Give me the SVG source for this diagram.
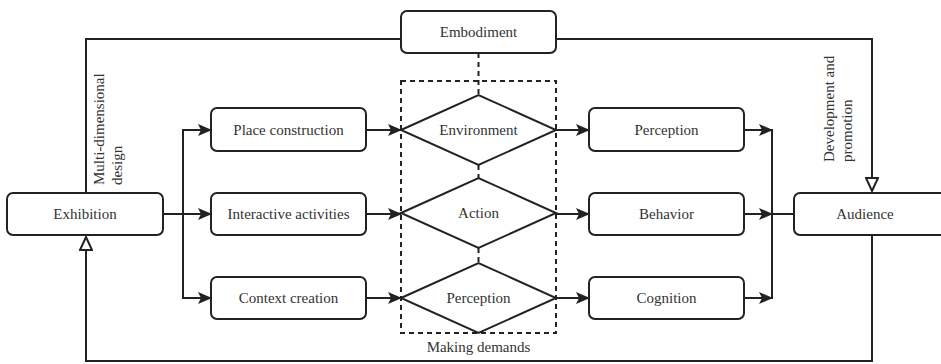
<svg xmlns="http://www.w3.org/2000/svg" width="941" height="364" viewBox="0 0 941 364">
<style>
.box{fill:#fff;stroke:#222;stroke-width:2}
.dia{fill:#fff;stroke:#222;stroke-width:2}
.ln{fill:none;stroke:#222;stroke-width:2}
.dash{fill:none;stroke:#222;stroke-width:2;stroke-dasharray:5,4}
.t{text-anchor:middle}
</style>
<defs>
<marker id="ah" markerWidth="14" markerHeight="12" refX="13" refY="6" orient="auto" markerUnits="userSpaceOnUse">
<path d="M0,0 L14,6 L0,12 L3,6 z" fill="#222"/>
</marker>
<marker id="hol" markerWidth="16" markerHeight="14" refX="14" refY="7" orient="auto" markerUnits="userSpaceOnUse">
<path d="M1,1 L14,7 L1,13 z" fill="#fff" stroke="#222" stroke-width="2"/>
</marker>
</defs>
<g id="connectors">
<polyline class="ln" points="86,193 86,39 401,39"/>
<polyline class="ln" points="556,39 872,39 872,191" marker-end="url(#hol)"/>
<polyline class="ln" points="872,235 872,361 86,361 86,237" marker-end="url(#hol)"/>
<line class="ln" x1="163" y1="214" x2="183" y2="214"/>
<polyline class="ln" points="211,130 183,130 183,298 211,298"/>
<line class="ln" x1="183" y1="130" x2="211" y2="130" marker-end="url(#ah)"/>
<line class="ln" x1="183" y1="214" x2="211" y2="214" marker-end="url(#ah)"/>
<line class="ln" x1="183" y1="298" x2="211" y2="298" marker-end="url(#ah)"/>
<line class="ln" x1="366" y1="130" x2="401" y2="130" marker-end="url(#ah)"/>
<line class="ln" x1="366" y1="214" x2="401" y2="214" marker-end="url(#ah)"/>
<line class="ln" x1="366" y1="298" x2="401" y2="298" marker-end="url(#ah)"/>
<line class="ln" x1="556" y1="130" x2="589" y2="130" marker-end="url(#ah)"/>
<line class="ln" x1="556" y1="214" x2="589" y2="214" marker-end="url(#ah)"/>
<line class="ln" x1="556" y1="298" x2="589" y2="298" marker-end="url(#ah)"/>
<line class="ln" x1="744" y1="130" x2="772" y2="130" marker-end="url(#ah)"/>
<line class="ln" x1="744" y1="214" x2="772" y2="214" marker-end="url(#ah)"/>
<line class="ln" x1="744" y1="298" x2="772" y2="298" marker-end="url(#ah)"/>
<line class="ln" x1="772" y1="129" x2="772" y2="299"/>
<line class="ln" x1="772" y1="214" x2="794" y2="214"/>
<line class="dash" x1="478.5" y1="53" x2="478.5" y2="95"/>
<line class="dash" x1="478.5" y1="165" x2="478.5" y2="178"/>
<line class="dash" x1="478.5" y1="248" x2="478.5" y2="263"/>
<rect class="dash" x="401" y="81" width="155" height="252"/>
</g>
<g font-family="Liberation Serif, Times New Roman, serif" font-size="15" fill="#333">
<g id="exhibition"><rect class="box" x="7" y="193" width="156" height="42" rx="6"/><text class="t" x="85" y="219">Exhibition</text></g>
<g id="embodiment"><rect class="box" x="401" y="11" width="155" height="42" rx="6"/><text class="t" x="478.5" y="37">Embodiment</text></g>
<g id="place"><rect class="box" x="211" y="108" width="155" height="43" rx="6"/><text class="t" x="288.5" y="135">Place construction</text></g>
<g id="interactive"><rect class="box" x="211" y="193" width="155" height="42" rx="6"/><text class="t" x="288.5" y="219">Interactive activities</text></g>
<g id="context"><rect class="box" x="211" y="277" width="155" height="42" rx="6"/><text class="t" x="288.5" y="303">Context creation</text></g>
<g id="environment"><polygon class="dia" points="401,130 478.5,95 556,130 478.5,165"/><text class="t" x="478.5" y="135">Environment</text></g>
<g id="action"><polygon class="dia" points="401,213 478.5,178 556,213 478.5,248"/><text class="t" x="478.5" y="218">Action</text></g>
<g id="perception-d"><polygon class="dia" points="401,298 478.5,263 556,298 478.5,333"/><text class="t" x="478.5" y="303">Perception</text></g>
<g id="perception"><rect class="box" x="589" y="108" width="155" height="43" rx="6"/><text class="t" x="666.5" y="135">Perception</text></g>
<g id="behavior"><rect class="box" x="589" y="193" width="155" height="42" rx="6"/><text class="t" x="666.5" y="219">Behavior</text></g>
<g id="cognition"><rect class="box" x="589" y="277" width="155" height="42" rx="6"/><text class="t" x="666.5" y="303">Cognition</text></g>
<g id="audience"><rect class="box" x="794" y="193" width="156" height="42" rx="6"/><text class="t" x="865" y="219">Audience</text></g>
<g id="labels">
<text transform="translate(104,185) rotate(-90)">Multi-dimensional</text>
<text transform="translate(122,185) rotate(-90)">design</text>
<text transform="translate(834,162) rotate(-90)">Development and</text>
<text transform="translate(852,162) rotate(-90)">promotion</text>
<text class="t" x="478.5" y="352">Making demands</text>
</g>
</g>
</svg>
